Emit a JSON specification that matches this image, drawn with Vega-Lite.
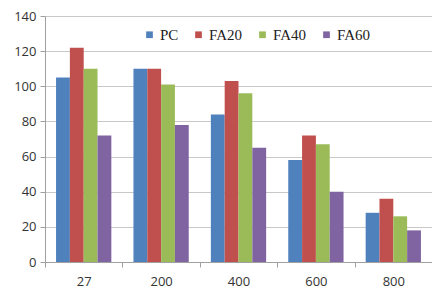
{
  "$schema": "https://vega.github.io/schema/vega-lite/v6.json",
  "width": 387,
  "height": 246,
  "autosize": {"type": "none"},
  "padding": {"left": 45, "top": 16, "right": 0, "bottom": 26},
  "background": "white",
  "data": {"values": [
    {"c": "27", "s": "PC", "v": 105}, {"c": "27", "s": "FA20", "v": 122}, {"c": "27", "s": "FA40", "v": 110}, {"c": "27", "s": "FA60", "v": 72},
    {"c": "200", "s": "PC", "v": 110}, {"c": "200", "s": "FA20", "v": 110}, {"c": "200", "s": "FA40", "v": 101}, {"c": "200", "s": "FA60", "v": 78},
    {"c": "400", "s": "PC", "v": 84}, {"c": "400", "s": "FA20", "v": 103}, {"c": "400", "s": "FA40", "v": 96}, {"c": "400", "s": "FA60", "v": 65},
    {"c": "600", "s": "PC", "v": 58}, {"c": "600", "s": "FA20", "v": 72}, {"c": "600", "s": "FA40", "v": 67}, {"c": "600", "s": "FA60", "v": 40},
    {"c": "800", "s": "PC", "v": 28}, {"c": "800", "s": "FA20", "v": 36}, {"c": "800", "s": "FA40", "v": 26}, {"c": "800", "s": "FA60", "v": 18}
  ]},
  "mark": {"type": "bar"},
  "encoding": {
    "x": {
      "field": "c", "type": "nominal", "sort": ["27", "200", "400", "600", "800"],
      "scale": {"paddingInner": 0, "paddingOuter": 0},
      "axis": {"title": null, "labelAngle": 0, "tickBand": "extent", "domainColor": "#a0a0a0", "tickColor": "#a0a0a0", "tickSize": 5, "labelPadding": 8, "labelFont": "Open Sans", "labelFontSize": 13, "labelColor": "#333333"}
    },
    "xOffset": {
      "field": "s", "type": "nominal", "sort": ["PC", "FA20", "FA40", "FA60"],
      "scale": {"paddingInner": 0, "paddingOuter": 0.8}
    },
    "y": {
      "field": "v", "type": "quantitative",
      "scale": {"domain": [0, 140], "nice": false},
      "axis": {"title": null, "values": [0, 20, 40, 60, 80, 100, 120, 140], "gridColor": "#c8c8c8", "domainColor": "#a0a0a0", "tickColor": "#a0a0a0", "tickSize": 5, "labelPadding": 4, "labelFont": "Open Sans", "labelFontSize": 13, "labelColor": "#333333"}
    },
    "color": {
      "field": "s", "type": "nominal", "sort": ["PC", "FA20", "FA40", "FA60"],
      "scale": {"domain": ["PC", "FA20", "FA40", "FA60"], "range": ["#4F81BD", "#C0504D", "#9BBB59", "#8064A2"]},
      "legend": {"title": null, "orient": "none", "direction": "horizontal", "legendX": 97, "legendY": 11, "symbolType": "square", "symbolSize": 45, "symbolStrokeWidth": 0, "labelFont": "Liberation Serif", "labelFontSize": 15, "labelColor": "#222222", "labelOffset": 3, "columnPadding": 12}
    }
  },
  "config": {"view": {"stroke": null}}
}
